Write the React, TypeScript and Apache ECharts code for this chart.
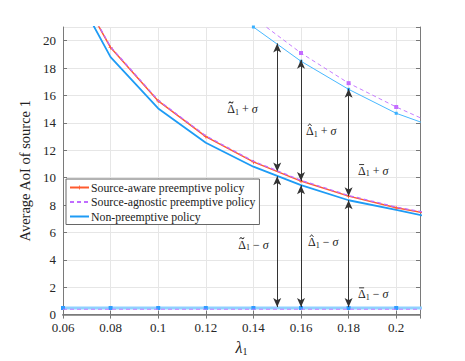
import React, { useEffect, useRef } from "react";
import * as echarts from "echarts";

const lambdas = [0.06, 0.08, 0.1, 0.12, 0.14, 0.16, 0.18, 0.2, 0.22];
const awareMean = [25.7, 19.5, 15.6, 13.0, 11.15, 9.75, 8.65, 7.8, 7.15];
const agnosticMean = [25.75, 19.55, 15.65, 13.05, 11.2, 9.8, 8.7, 7.85, 7.2];
const nonPreMean = [25.2, 18.8, 15.05, 12.55, 10.8, 9.45, 8.35, 7.65, 6.9];
const agnosticUpper = [45, 36, 30, 25.3, 21.7, 19.1, 16.9, 15.16, 13.6];
const nonPreUpper = [44, 35, 29, 24.5, 21.0, 18.5, 16.45, 14.7, 13.45];
const nonPreLower = [0.48, 0.48, 0.48, 0.48, 0.48, 0.48, 0.48, 0.48, 0.48];
const agnosticLower = [0.39, 0.39, 0.39, 0.39, 0.39, 0.39, 0.39, 0.39, 0.39];

// arrows between mean and mean ± sigma
const arrowX = [0.15, 0.16, 0.18];
const arrowUpFrom = [10.45, 9.75, 8.65];
const arrowUpTo = [19.8, 18.6, 16.5];
const arrowDownFrom = [10.1, 9.45, 8.35];
const arrowDownTo = [0.55, 0.55, 0.55];

// accent kinds: t = tilde, h = hat, b = bar
const labelAccents = ["t", "h", "b", "t", "h", "b"];
const labelSigns = ["+", "+", "+", "−", "−", "−"];
const labelCoords = [
  [0.1354, 15.0],
  [0.1685, 13.4],
  [0.1903, 10.5],
  [0.14, 5.1],
  [0.1693, 5.3],
  [0.1903, 1.5],
];

const SERIF = "Liberation Serif";

const pair = (ys: number[]) => lambdas.map((x, i) => [x, ys[i]]);

const plusPath =
  "path://M4,0 L6,0 L6,4 L10,4 L10,6 L6,6 L6,10 L4,10 L4,6 L0,6 L0,4 L4,4 Z";

const accentShapes: Record<string, { symbol: string; size: number[]; dy: number }> = {
  t: {
    symbol:
      "path://M0,3.2 C0.8,1 2,0.6 3.2,1.6 C4.2,2.4 5,2.6 5.6,0.8 L6.4,1.2 C5.6,3.6 4.3,3.8 3,2.8 C2,2 1.2,2 0.8,3.6 Z",
    size: [5.2, 2.4],
    dy: -6.6,
  },
  h: {
    symbol: "path://M0,4 L2.5,0 L5,4 L4.1,4 L2.5,1.5 L0.9,4 Z",
    size: [4.6, 2.8],
    dy: -6.4,
  },
  b: {
    symbol: "rect",
    size: [5, 0.9],
    dy: -6.2,
  },
};

export default function App() {
  const ref = useRef<HTMLDivElement>(null);
  useEffect(() => {
    document.body.style.margin = "0";
    if (!ref.current) return;
    const chart = echarts.init(ref.current, undefined, { renderer: "svg" });
    const xFmt = (v: number) => {
      const k = v / 0.02;
      if (Math.abs(k - Math.round(k)) > 1e-6) return "";
      return String(Number(v.toFixed(2)));
    };
    const yFmt = (v: number) => (Math.abs(v / 2 - Math.round(v / 2)) > 1e-6 ? "" : String(v));

    const arrowLines: any[] = [];
    arrowX.forEach((x, i) => {
      arrowLines.push([{ coord: [x, arrowUpFrom[i]] }, { coord: [x, arrowUpTo[i]] }]);
      arrowLines.push([{ coord: [x, arrowDownFrom[i]] }, { coord: [x, arrowDownTo[i]] }]);
    });

    const markPoints: any[] = [];
    labelCoords.forEach((c, i) => {
      markPoints.push({
        coord: c,
        symbol: "circle",
        symbolSize: 0,
        label: {
          show: true,
          position: "inside",
          formatter: `{a|Δ}{s|1}{a| ${labelSigns[i]} }{i|σ}`,
        },
      });
      const acc = accentShapes[labelAccents[i]];
      markPoints.push({
        coord: c,
        symbol: acc.symbol,
        symbolSize: acc.size,
        symbolOffset: [-11.5, acc.dy],
        itemStyle: { color: "#222" },
        label: { show: false },
      });
    });

    const option: any = {
      animation: false,
      backgroundColor: "#fff",
      textStyle: { fontFamily: SERIF },
      grid: { left: 63, right: 45, top: 27, bottom: 43, containLabel: false },
      legend: {
        data: [
          { name: "Source-aware preemptive policy" },
          { name: "Source-agnostic preemptive policy", itemStyle: { opacity: 0 } },
          { name: "Non-preemptive policy", itemStyle: { opacity: 0 } },
        ],
        orient: "vertical",
        left: 66,
        top: 179,
        itemWidth: 19,
        itemHeight: 5,
        itemGap: 2.5,
        padding: [2.5, 4, 2, 3],
        backgroundColor: "#fff",
        borderColor: "#666",
        borderWidth: 1,
        borderRadius: 0,
        textStyle: { fontFamily: SERIF, fontSize: 11.8, color: "#222", lineHeight: 12, padding: [0, 0, 0, -3] },
      },
      xAxis: [
        {
          type: "value",
          min: 0.06,
          max: 0.21,
          interval: 0.02,
          name: "{l|λ}{s|1}",
          nameLocation: "middle",
          nameGap: 18,
          nameTextStyle: {
            rich: {
              l: { fontFamily: SERIF, fontSize: 16, fontStyle: "italic", color: "#222" },
              s: { fontFamily: SERIF, fontSize: 10, color: "#222", padding: [8, 0, 0, 0] },
            },
          },
          axisLine: { show: true, onZero: false, lineStyle: { color: "#9a9a9a", width: 2 } },
          axisTick: { show: true, inside: true, length: 4, lineStyle: { color: "#777" } },
          axisLabel: {
            formatter: xFmt,
            fontFamily: SERIF,
            fontSize: 13,
            lineHeight: 12,
            color: "#262626",
            margin: 7,
            showMaxLabel: false,
          },
          splitLine: { show: true, lineStyle: { color: "#e6e6e6", width: 1 } },
        },
        {
          type: "value",
          position: "top",
          min: 0.06,
          max: 0.21,
          interval: 0.02,
          axisLine: { show: true, lineStyle: { color: "#7a7a7a", width: 1 } },
          axisTick: { show: true, inside: true, length: 4, lineStyle: { color: "#777" } },
          axisLabel: { show: false },
          splitLine: { show: false },
        },
      ],
      yAxis: [
        {
          type: "value",
          min: 0,
          max: 21,
          interval: 2,
          name: "Average AoI of source 1",
          nameLocation: "middle",
          nameGap: 24,
          nameTextStyle: { fontFamily: SERIF, fontSize: 14.5, color: "#222" },
          axisLine: { show: true, onZero: false, lineStyle: { color: "#7a7a7a", width: 1 } },
          axisTick: { show: true, inside: true, length: 4, lineStyle: { color: "#777" } },
          axisLabel: {
            formatter: yFmt,
            fontFamily: SERIF,
            fontSize: 13,
            lineHeight: 11,
            color: "#262626",
            margin: 7,
            showMaxLabel: false,
          },
          splitLine: { show: true, lineStyle: { color: "#e6e6e6", width: 1 } },
        },
        {
          type: "value",
          position: "right",
          min: 0,
          max: 21,
          interval: 2,
          axisLine: { show: true, lineStyle: { color: "#7a7a7a", width: 1 } },
          axisTick: { show: true, inside: true, length: 4, lineStyle: { color: "#777" } },
          axisLabel: { show: false },
          splitLine: { show: false },
        },
      ],
      series: [
        {
          name: "Non-preemptive policy (lower)",
          type: "line",
          data: pair(nonPreLower),
          symbol: "rect",
          symbolSize: 4,
          itemStyle: { color: "#2f9bff" },
          lineStyle: { color: "#8fd2ff", width: 3 },
          z: 2,
          markLine: {
            silent: true,
            symbol: ["arrow", "arrow"],
            symbolSize: [6, 9],
            label: { show: false },
            lineStyle: { color: "#333", width: 1, type: "solid" },
            data: arrowLines,
          },
          markPoint: {
            silent: true,
            itemStyle: { color: "#222" },
            label: {
              rich: {
                a: { fontFamily: SERIF, fontSize: 12, lineHeight: 14, color: "#222" },
                s: { fontFamily: SERIF, fontSize: 8, lineHeight: 8, color: "#222", padding: [6, 0, 0, 0] },
                i: { fontFamily: SERIF, fontSize: 12, lineHeight: 14, fontStyle: "italic", color: "#222" },
              },
            },
            data: markPoints,
          },
        },
        {
          name: "Source-agnostic preemptive policy (lower)",
          type: "line",
          data: pair(agnosticLower),
          symbol: "none",
          lineStyle: { color: "#c77dff", width: 1, type: [4, 3] },
          z: 3,
        },
        {
          name: "Non-preemptive policy (upper)",
          type: "line",
          data: pair(nonPreUpper),
          symbol: "rect",
          symbolSize: 3,
          itemStyle: { color: "#39b0ff" },
          lineStyle: { color: "#48b8ff", width: 1 },
          z: 2,
        },
        {
          name: "Source-agnostic preemptive policy (upper)",
          type: "line",
          data: pair(agnosticUpper),
          symbol: "rect",
          symbolSize: 4,
          itemStyle: { color: "#c46cff" },
          lineStyle: { color: "#c77dff", width: 1, type: [4, 3] },
          z: 2,
        },
        {
          name: "Non-preemptive policy",
          type: "line",
          data: pair(nonPreMean),
          symbol: "none",
          itemStyle: { color: "#56bdff" },
          lineStyle: { color: "#1e9bf5", width: 1.8 },
          z: 3,
        },
        {
          name: "Source-aware preemptive policy",
          type: "line",
          data: pair(awareMean),
          symbol: plusPath,
          symbolSize: 4,
          itemStyle: { color: "#ff5a2e" },
          lineStyle: { color: "#ff5a2e", width: 1.5 },
          z: 4,
        },
        {
          name: "Source-agnostic preemptive policy",
          type: "line",
          data: pair(agnosticMean),
          symbol: "none",
          itemStyle: { color: "#c06cff" },
          lineStyle: { color: "#c06cff", width: 1.3, type: [4, 3] },
          z: 5,
        },
      ],
    };
    chart.setOption(option);
    return () => chart.dispose();
  }, []);
  return <div ref={ref} style={{ width: 465, height: 361 }} />;
}
